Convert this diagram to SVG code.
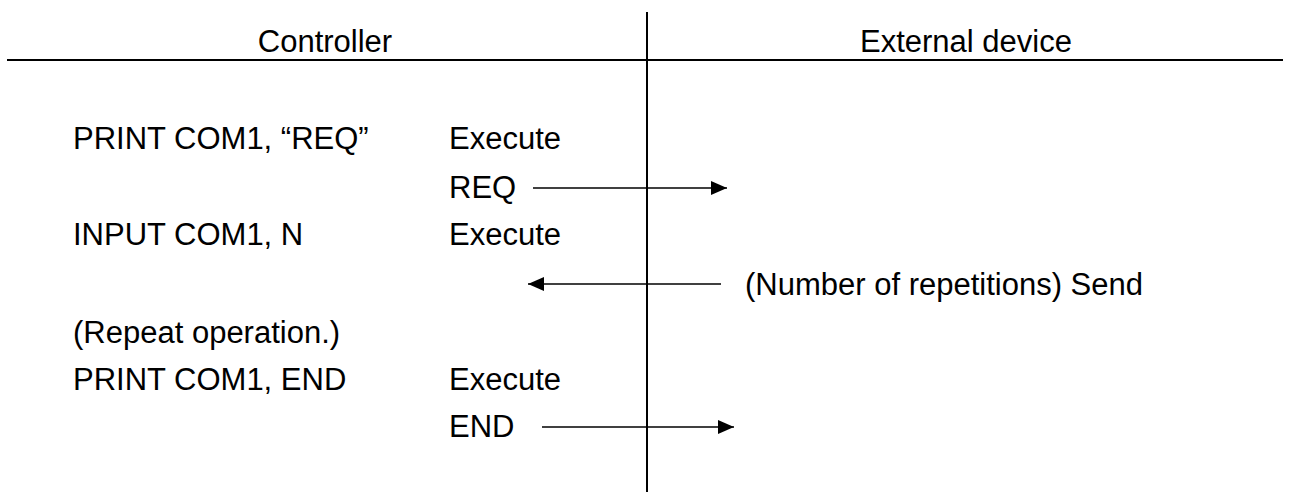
<svg xmlns="http://www.w3.org/2000/svg" width="1291" height="492" viewBox="0 0 1291 492">
<style>
.t{font-family:"Liberation Sans",Arial,sans-serif;font-size:31px;fill:#000}
.h{font-family:"Liberation Sans",Arial,sans-serif;font-size:31px;fill:#000;text-anchor:middle}
.ln{stroke:#000;stroke-width:2;fill:none}
.ar{stroke:#000;stroke-width:1.6;fill:none;marker-end:url(#ah)}
</style>
<defs>
<marker id="ah" markerUnits="userSpaceOnUse" markerWidth="16" markerHeight="14" refX="16" refY="7" orient="auto">
<path d="M0,0 L16,7 L0,14 Z" fill="#000"/>
</marker>
</defs>
<rect width="1291" height="492" fill="#fff"/>
<g id="frame">
<line class="ln" x1="7" y1="60" x2="1283" y2="60"/>
<line class="ln" x1="647" y1="12" x2="647" y2="492"/>
</g>
<g id="header-controller"><text class="h" x="325" y="52">Controller</text></g>
<g id="header-external"><text class="h" x="966" y="52">External device</text></g>
<g id="row1"><text class="t" x="73" y="149">PRINT COM1, “REQ”</text><text class="t" x="449" y="149">Execute</text></g>
<g id="row2"><text class="t" x="449" y="198">REQ</text></g>
<g id="row3"><text class="t" x="73" y="245">INPUT COM1, N</text><text class="t" x="449" y="245">Execute</text></g>
<g id="row4"><text class="t" x="745" y="295">(Number of repetitions) Send</text></g>
<g id="row5"><text class="t" x="73" y="343">(Repeat operation.)</text></g>
<g id="row6"><text class="t" x="73" y="390">PRINT COM1, END</text><text class="t" x="449" y="390">Execute</text></g>
<g id="row7"><text class="t" x="449" y="437">END</text></g>
<g id="connectors">
<line class="ar" x1="533" y1="188" x2="727" y2="188"/>
<line class="ar" x1="721" y1="284" x2="528" y2="284"/>
<line class="ar" x1="542" y1="427" x2="734" y2="427"/>
</g>
</svg>
